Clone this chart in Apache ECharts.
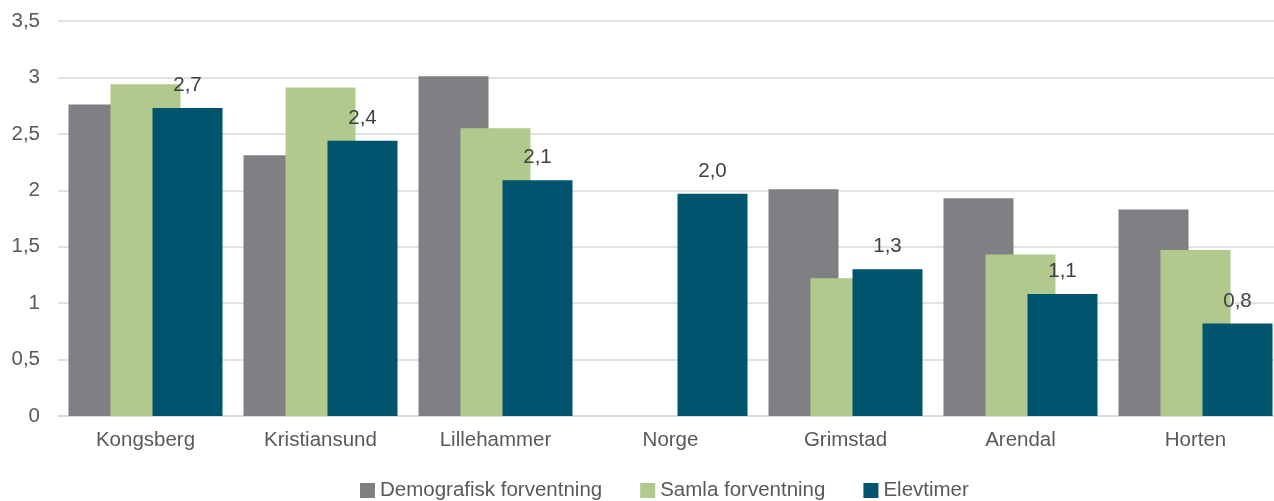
<!DOCTYPE html>
<html>
<head>
<meta charset="utf-8">
<script src="https://cdn.jsdelivr.net/npm/echarts@6/dist/echarts.min.js"></script>
<style>
html,body{margin:0;padding:0;background:#fff;}
#chart{width:1274px;height:501px;}
</style>
</head>
<body>
<div id="chart"></div>
<script>
const categories = ['Kongsberg', 'Kristiansund', 'Lillehammer', 'Norge', 'Grimstad', 'Arendal', 'Horten'];
const seriesNames = ['Demografisk forventning', 'Samla forventning', 'Elevtimer'];
const demografisk = [2.76, 2.31, 3.01, null, 2.01, 1.93, 1.83];
const samla = [2.94, 2.91, 2.55, null, 1.22, 1.43, 1.47];
const elevtimer = [2.73, 2.44, 2.09, 1.97, 1.30, 1.08, 0.82];
const yMin = 0, yMax = 3.5, yStep = 0.5;

const fmt = v => String(v).replace('.', ',');
const font = 'Liberation Sans, Arial, sans-serif';
const fs = 20.5;
const chart = echarts.init(document.getElementById('chart'));
chart.setOption({
  animation: false,
  textStyle: { fontFamily: font },
  grid: { left: 58, width: 1225, top: 21, height: 395, containLabel: false, outerBoundsMode: 'none' },
  legend: {
    left: 355, top: 475,
    itemWidth: 15, itemHeight: 15, itemGap: 38,
    icon: 'rect',
    textStyle: { fontFamily: font, fontSize: fs, color: '#595959' },
    data: seriesNames
  },
  xAxis: {
    type: 'category', data: categories,
    axisLine: { show: true, lineStyle: { color: '#d9d9d9', width: 1.5 } },
    axisTick: { show: false },
    axisLabel: { margin: 14, fontSize: fs, color: '#595959', fontFamily: font }
  },
  yAxis: {
    type: 'value', min: yMin, max: yMax, interval: yStep,
    axisLine: { show: false }, axisTick: { show: false },
    splitLine: { lineStyle: { color: '#d9d9d9', width: 1.5 } },
    axisLabel: { margin: 18, fontSize: fs, color: '#595959', fontFamily: font, formatter: v => fmt(v) }
  },
  series: [
    { name: seriesNames[0], type: 'bar', data: demografisk, barWidth: 70, barGap: '-40%',
      itemStyle: { color: '#807f84' } },
    { name: seriesNames[1], type: 'bar', data: samla, barWidth: 70, barGap: '-40%',
      itemStyle: { color: '#b1c98c' } },
    { name: seriesNames[2], type: 'bar', data: elevtimer, barWidth: 70, barGap: '-40%',
      itemStyle: { color: '#00546e' },
      label: { show: true, position: 'top', distance: 12, fontSize: fs, color: '#404040', fontFamily: font,
        formatter: p => p.value.toFixed(1).replace('.', ',') } }
  ]
});
</script>
</body>
</html>
